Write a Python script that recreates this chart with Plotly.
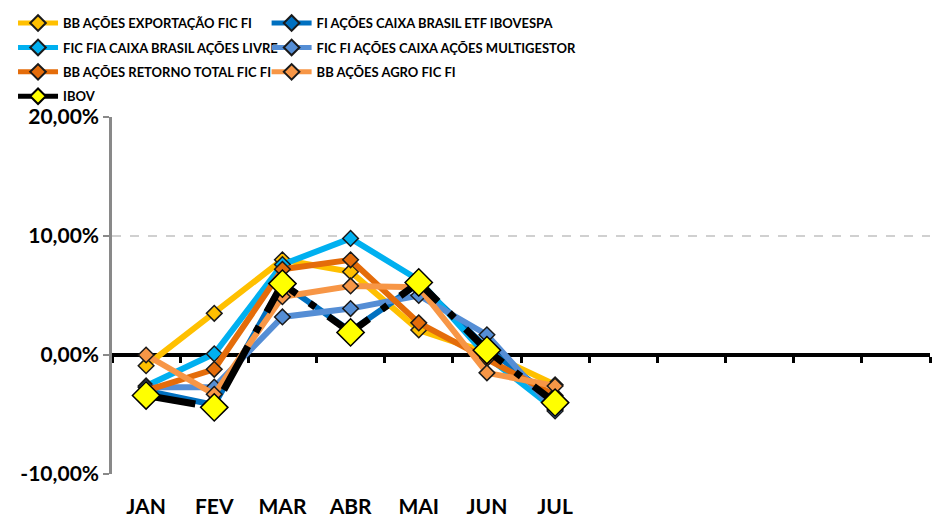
import plotly.graph_objects as go

months = ["JAN", "FEV", "MAR", "ABR", "MAI", "JUN", "JUL"]
n_slots = 12  # the category axis has room for 12 months

series_names = [
    "BB AÇÕES EXPORTAÇÃO FIC FI",
    "FI AÇÕES CAIXA BRASIL ETF IBOVESPA",
    "FIC FIA CAIXA BRASIL AÇÕES LIVRE",
    "FIC FI AÇÕES CAIXA AÇÕES MULTIGESTOR",
    "BB AÇÕES RETORNO TOTAL FIC FI",
    "BB AÇÕES AGRO FIC FI",
    "IBOV",
]

exportacao = [-0.9, 3.5, 8.0, 7.0, 2.1, 0.2, -2.5]
etf_ibovespa = [-3.0, -4.2, 6.0, 2.0, 6.0, 0.6, -3.8]
livre = [-2.6, 0.1, 7.6, 9.8, 6.3, -0.1, -4.6]
multigestor = [-2.7, -2.7, 3.2, 3.9, 5.0, 1.7, -4.7]
retorno_total = [-3.0, -1.2, 7.2, 8.0, 2.7, -0.3, -3.4]
agro = [0.0, -3.3, 4.9, 5.8, 5.7, -1.5, -2.6]
ibov = [-3.4, -4.4, 6.0, 1.9, 6.1, 0.4, -4.0]

values = [exportacao, etf_ibovespa, livre, multigestor, retorno_total, agro, ibov]
colors = ["#FFC000", "#0070C0", "#00B0F0", "#558ED5", "#E46C0A", "#F79646", "#000000"]
legend_of = ["legend", "legend2", "legend", "legend2", "legend", "legend2", "legend"]

y_ticks = [-10, 0, 10, 20]
y_ticktext = [f"{v:.2f}".replace(".", ",") + "%" for v in y_ticks]

FONT = "Lato, 'Open Sans', sans-serif"

fig = go.Figure()
x_idx = list(range(len(months)))

# invisible helper so the zero-line axis (x2) is drawn
fig.add_trace(go.Scatter(x=x_idx, y=[0] * len(x_idx), xaxis="x2", mode="none",
                         showlegend=False, hoverinfo="skip"))

for i, (name, vals, col, lg) in enumerate(zip(series_names, values, colors, legend_of)):
    if name == "IBOV":
        fig.add_trace(go.Scatter(
            x=x_idx, y=vals, name=name, mode="lines+markers", legend=lg,
            legendgroup=f"g{i}",
            line=dict(color=col, width=7, dash="50px,16px,7px,16px"),
            marker=dict(symbol="diamond", size=21, color="#FFFF00",
                        line=dict(color="black", width=1.5)),
        ))
    else:
        fig.add_trace(go.Scatter(
            x=x_idx, y=vals, name=name, mode="lines+markers", legend=lg,
            legendgroup=f"g{i}",
            line=dict(color=col, width=6),
            marker=dict(symbol="diamond", size=12, color=col,
                        line=dict(color="#1a1a1a", width=1.5)),
        ))

legend_common = dict(
    orientation="v", xanchor="left", y=1.305, yanchor="top",
    font=dict(family=FONT, size=13, color="black", weight="bold"),
    itemwidth=40, itemsizing="constant", traceorder="grouped",
    tracegroupgap=4.5, bgcolor="rgba(0,0,0,0)",
)

fig.update_layout(
    width=940, height=519,
    margin=dict(l=104, r=18, t=109, b=53, autoexpand=False),
    paper_bgcolor="white", plot_bgcolor="white",
    font=dict(family=FONT, size=16, color="black"),
    showlegend=True,
    legend=dict(x=-0.121, **legend_common),
    legend2=dict(x=0.189, **legend_common),
    xaxis=dict(
        range=[-0.5, n_slots - 0.5], tickvals=x_idx, ticktext=months,
        showgrid=False, zeroline=False, showline=False, ticks="",
        tickfont=dict(family=FONT, size=21, weight="bold"),
        ticklabelstandoff=18,
    ),
    xaxis2=dict(
        overlaying="x", matches="x", anchor="free", position=1/3,
        range=[-0.5, n_slots - 0.5], showticklabels=False,
        showline=True, linecolor="black", linewidth=4, layer="below traces",
        ticks="", showgrid=False, zeroline=False,
        minor=dict(ticks="outside", tick0=-0.5, dtick=1, ticklen=6,
                   tickcolor="black", tickwidth=3, showgrid=False),
    ),
    yaxis=dict(
        range=[-10, 20], tickvals=y_ticks, ticktext=y_ticktext,
        showgrid=True, gridcolor="#D0D0D0", griddash="dash", gridwidth=1.5,
        zeroline=False, showline=True, linecolor="#898989", linewidth=2.5,
        ticks="outside", ticklen=6, tickcolor="#898989", tickwidth=2,
        tickfont=dict(family=FONT, size=21, weight="bold"),
    ),
)

fig.write_html("out.html")
